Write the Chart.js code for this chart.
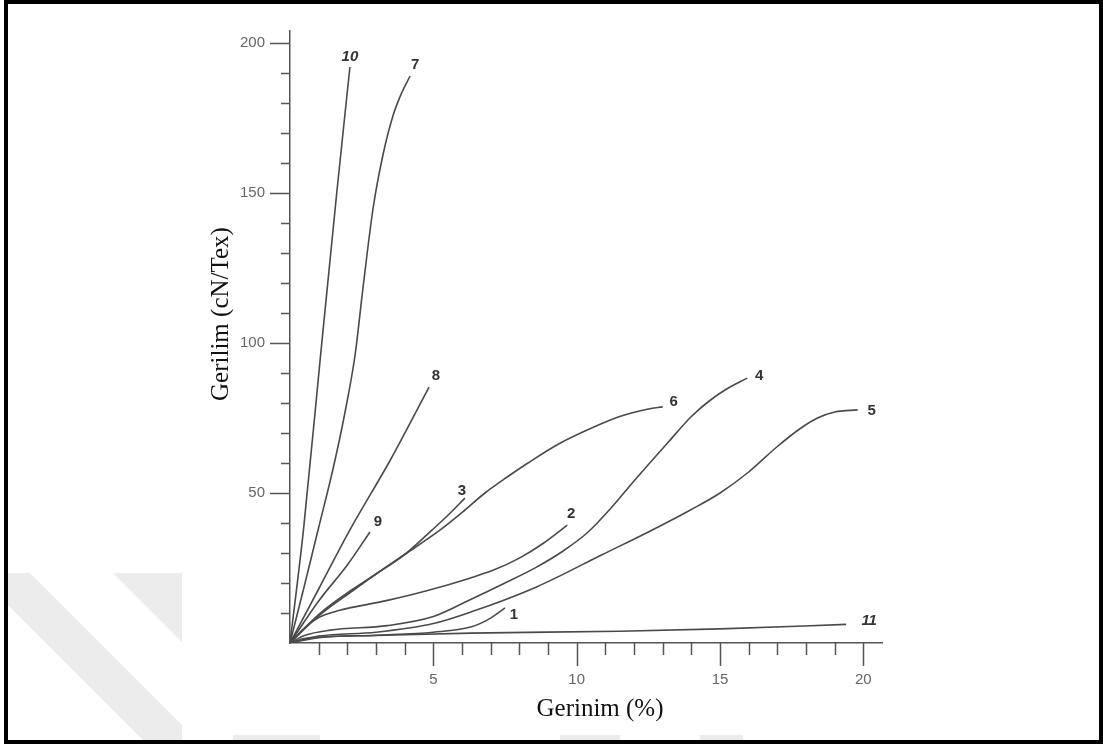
<!DOCTYPE html>
<html>
<head>
<meta charset="utf-8">
<title>Gerilim - Gerinim</title>
<script src="https://cdn.jsdelivr.net/npm/chart.js@4.4.1/dist/chart.umd.min.js"></script>
<style>
  body { margin: 0; background: #fff; }
  canvas { display: block; }
</style>
</head>
<body>
<canvas id="chart" width="1103" height="744"></canvas>
<script>
// curve numbers as printed on the figure
const curveNames = ['1', '2', '3', '4', '5', '6', '7', '8', '9', '10', '11'];

// strain (%) / stress (cN/tex)
const strain1 = [0, 1, 3, 5, 6.3, 7.0, 7.5];
const stress1 = [0, 1.8, 2.6, 3.6, 5.3, 8.3, 11.7];

const strain2 = [0, 0.5, 1, 1.7, 3.4, 4.8, 6.3, 7.1, 8.0, 8.8, 9.67];
const stress2 = [0, 5, 8.5, 10.8, 14.2, 17.5, 21.7, 24.3, 28.3, 33, 39.3];

const strain3 = [0, 1, 2.2, 3, 4, 4.96, 5.5, 6.1];
const stress3 = [0, 9.5, 18, 23, 29.5, 37.7, 42.5, 48.3];

const strain4 = [0, 0.5, 1.4, 3.4, 5.0, 6.3, 7.5, 8.6, 9.5, 10.4, 11.2, 12.0, 13.2, 14.0, 14.6, 15.2, 15.95];
const stress4 = [0, 2.5, 4.3, 5.8, 8.8, 14.5, 20, 25.3, 30.5, 37, 45, 54, 67, 75.5, 80.5, 84.5, 88.3];

const strain5 = [0, 1, 3, 5, 6.3, 8.6, 10.9, 12.5, 14, 15.0, 16.0, 17.0, 17.8, 18.4, 19.0, 19.8];
const stress5 = [0, 2.3, 3.6, 6.5, 10.3, 18.7, 29.5, 37, 44.5, 50, 57, 65.5, 71.5, 75, 77, 77.7];

const strain6 = [0, 1, 2.2, 3, 4, 5.24, 6.0, 6.8, 7.6, 8.3, 9.4, 10.6, 11.5, 12.5, 13.0];
const stress6 = [0, 9, 17.5, 23, 29.5, 37.7, 43.5, 50, 55.5, 60, 66.5, 72, 75.5, 78, 78.7];

const strain7 = [0, 0.5, 1.0, 1.5, 1.9, 2.27, 2.55, 2.9, 3.25, 3.6, 3.9, 4.19];
const stress7 = [0, 19, 38.5, 58, 76, 96, 118.7, 145, 163, 176, 183.5, 189];

const strain8 = [0, 1, 2.09, 3.5, 4.85];
const stress8 = [0, 18, 37.7, 61, 85.3];

const strain9 = [0, 1, 2, 2.79];
const stress9 = [0, 14, 26, 37];

const strain10 = [0, 0.47, 1.05, 1.63, 2.09];
const stress10 = [0, 37.7, 94.3, 150, 192];

const strain11 = [0, 0.5, 3, 6.3, 11.5, 15, 19.4];
const stress11 = [0, 1.5, 2.5, 3.3, 3.9, 4.7, 6.2];

// labelled ticks
const xTickLabels = [5, 10, 15, 20];
const yTickLabels = [50, 100, 150, 200];

const strains = [strain1, strain2, strain3, strain4, strain5, strain6, strain7, strain8, strain9, strain10, strain11];
const stresses = [stress1, stress2, stress3, stress4, stress5, stress6, stress7, stress8, stress9, stress10, stress11];

// pixel nudge of each curve number from the curve's end
const labelOffsets = {
  '1': [9, 7], '2': [4, -11], '3': [-3, -7], '4': [12, -2], '5': [14, 1], '6': [11, -5],
  '7': [5, -11], '8': [7, -11], '9': [8, -10], '10': [0, -10], '11': [23, -4]
};

const sans = "'Liberation Sans', Arial, sans-serif";
const serif = "'Liberation Serif', 'Times New Roman', serif";
const inkColor = '#4a4a4a';

const datasets = curveNames.map((name, i) => ({
  label: name,
  data: strains[i].map((x, j) => ({ x: x, y: stresses[i][j] })),
  showLine: true,
  borderColor: inkColor,
  borderWidth: 1.6,
  pointRadius: 0,
  pointHoverRadius: 0,
  cubicInterpolationMode: 'monotone',
  fill: false
}));

const figurePlugin = {
  id: 'figure',
  beforeDraw(chart) {
    const ctx = chart.ctx;
    ctx.save();
    // faint watermark stripes peeking round the scanned figure
    ctx.fillStyle = '#ececec';
    ctx.beginPath();
    ctx.moveTo(7, 573); ctx.lineTo(30, 573); ctx.lineTo(182, 725);
    ctx.lineTo(182, 740); ctx.lineTo(143, 740); ctx.lineTo(7, 604);
    ctx.closePath();
    ctx.fill();
    ctx.beginPath();
    ctx.moveTo(113, 573); ctx.lineTo(182, 573); ctx.lineTo(182, 642);
    ctx.closePath();
    ctx.fill();
    ctx.fillRect(233, 735, 87, 5);
    ctx.fillRect(560, 735, 60, 5);
    ctx.fillRect(700, 735, 43, 5);
    ctx.restore();
  },
  afterDatasetsDraw(chart) {
    const ctx = chart.ctx;
    const xs = chart.scales.x;
    const ys = chart.scales.y;
    const area = chart.chartArea;
    ctx.save();

    // tick marks: long at labelled values, short elsewhere
    ctx.strokeStyle = '#555';
    ctx.lineWidth = 1.5;
    ctx.beginPath();
    xs.ticks.forEach(t => {
      if (t.value === 0) return;
      const px = Math.round(xs.getPixelForValue(t.value)) + 0.5;
      const len = xTickLabels.includes(t.value) ? 23 : 12;
      ctx.moveTo(px, area.bottom);
      ctx.lineTo(px, area.bottom + len);
    });
    ys.ticks.forEach(t => {
      if (t.value === 0) return;
      const py = Math.round(ys.getPixelForValue(t.value)) + 0.5;
      const len = yTickLabels.includes(t.value) ? 20 : 9;
      ctx.moveTo(area.left, py);
      ctx.lineTo(area.left - len, py);
    });
    ctx.stroke();

    // axis titles
    ctx.fillStyle = '#111';
    ctx.font = '25px ' + serif;
    ctx.textAlign = 'center';
    ctx.textBaseline = 'alphabetic';
    ctx.fillText('Gerinim (%)', 600, 716);
    ctx.save();
    ctx.translate(228, 314);
    ctx.rotate(-Math.PI / 2);
    ctx.fillText('Gerilim (cN/Tex)', 0, 0);
    ctx.restore();

    // curve numbers at the end of each curve
    ctx.fillStyle = '#333';
    ctx.textBaseline = 'middle';
    curveNames.forEach((name, i) => {
      const n = strains[i].length - 1;
      const px = xs.getPixelForValue(strains[i][n]) + labelOffsets[name][0];
      const py = ys.getPixelForValue(stresses[i][n]) + labelOffsets[name][1];
      const italic = name === '10' || name === '11';
      ctx.font = (italic ? 'italic ' : '') + 'bold 15px ' + sans;
      ctx.fillText(name, px, py);
    });

    // frame round the figure
    ctx.strokeStyle = '#000';
    ctx.lineWidth = 4;
    ctx.strokeRect(6, 2, 1095, 740);
    ctx.restore();
  }
};

new Chart(document.getElementById('chart'), {
  type: 'scatter',
  data: { datasets: datasets },
  options: {
    responsive: false,
    devicePixelRatio: 1,
    animation: false,
    layout: { padding: { left: 0, top: 31, right: 221, bottom: 0 } },
    plugins: {
      legend: { display: false },
      tooltip: { enabled: false }
    },
    scales: {
      x: {
        type: 'linear',
        min: 0,
        max: 20.65,
        afterFit(scale) { scale.height = 101; },
        grid: { display: false, tickLength: 23 },
        border: { display: true, color: '#555', width: 1.5 },
        ticks: {
          stepSize: 1,
          includeBounds: false,
          autoSkip: false,
          maxRotation: 0,
          padding: 5,
          color: '#666',
          font: { family: sans, size: 15 },
          callback: value => xTickLabels.includes(value) ? String(value) : ''
        }
      },
      y: {
        type: 'linear',
        min: 0,
        max: 204,
        afterFit(scale) { scale.width = 290; },
        grid: { display: false, tickLength: 20 },
        border: { display: true, color: '#555', width: 1.5 },
        ticks: {
          stepSize: 10,
          includeBounds: false,
          autoSkip: false,
          padding: 5,
          color: '#666',
          font: { family: sans, size: 15 },
          callback: value => yTickLabels.includes(value) ? String(value) : ''
        }
      }
    }
  },
  plugins: [figurePlugin]
});
</script>
</body>
</html>
